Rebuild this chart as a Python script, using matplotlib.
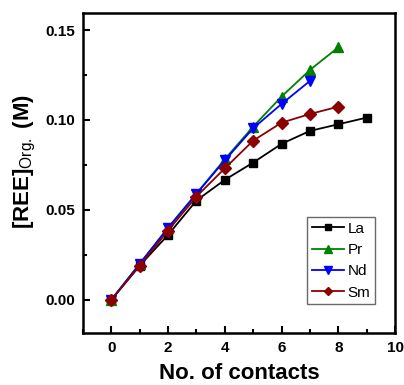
import matplotlib
matplotlib.use("Agg")
import matplotlib.pyplot as plt
from matplotlib.ticker import MultipleLocator

plt.rcParams["font.family"] = ["Liberation Sans", "DejaVu Sans"]
plt.rcParams["mathtext.fontset"] = "custom"
plt.rcParams["mathtext.rm"] = "Liberation Sans"
plt.rcParams["mathtext.bf"] = "Liberation Sans:bold"

contacts = list(range(10))
la = [0.0, 0.019, 0.0361, 0.0552, 0.0667, 0.0763, 0.0867, 0.0939, 0.0976, 0.1013]
pr = [0.0, 0.020, 0.040, 0.059, 0.0782, 0.0963, 0.1130, 0.1278, 0.1404]
nd = [0.0, 0.020, 0.040, 0.059, 0.0775, 0.0954, 0.1089, 0.1217]
sm = [0.0, 0.019, 0.0385, 0.0574, 0.0731, 0.0885, 0.0985, 0.1033, 0.1074]

series = [
    ("La", la, "black", "s", 6),
    ("Pr", pr, "green", "^", 7),
    ("Nd", nd, "blue", "v", 7),
    ("Sm", sm, "#8b0000", "D", 6),
]

fig = plt.figure(figsize=(4.04, 3.85), dpi=100)
ax = fig.add_axes([83 / 404, 52 / 385, 312 / 404, 320 / 385])

for name, vals, color, marker, ms in series:
    ax.plot(contacts[:len(vals)], vals, color=color, marker=marker, markersize=ms,
            linewidth=1.3, label=name)

ax.set_xlim(-1, 10)
ax.set_ylim(-0.0185, 0.1595)
ax.xaxis.set_major_locator(MultipleLocator(2))
ax.xaxis.set_minor_locator(MultipleLocator(1))
ax.yaxis.set_major_locator(MultipleLocator(0.05))
ax.yaxis.set_minor_locator(MultipleLocator(0.025))
ax.yaxis.set_major_formatter(plt.FormatStrFormatter("%.2f"))
ax.tick_params(which="both", direction="in", top=False, right=False, width=1.5)
ax.tick_params(which="major", length=5, labelsize=11, pad=6)
ax.tick_params(which="minor", length=3)
for lbl in ax.get_xticklabels() + ax.get_yticklabels():
    lbl.set_fontweight("bold")
for sp in ax.spines.values():
    sp.set_linewidth(1.8)

ax.set_xlabel("No. of contacts", fontsize=16, fontweight="bold")
ax.set_ylabel("[REE]$_{\\mathrm{Org.}}$ (M)", fontsize=16, fontweight="bold")
ax.xaxis.set_label_coords(0.5, -0.095)
ax.yaxis.set_label_coords(-0.145, 0.5375)

leg = ax.legend(loc="lower right", bbox_to_anchor=(0.936, 0.09), fontsize=11,
                frameon=True, fancybox=False, edgecolor="#444444", handlelength=2.1,
                handletextpad=0.25, borderpad=0.3, labelspacing=0.48, borderaxespad=0,
                markerscale=0.75)
leg.get_frame().set_linewidth(1.0)

fig.savefig("out.png", dpi=100)
